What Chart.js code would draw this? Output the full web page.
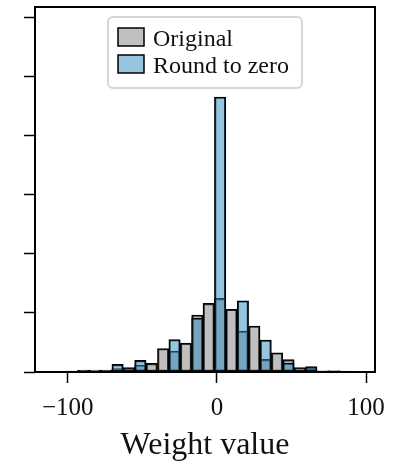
<!DOCTYPE html>
<html>
<head>
<meta charset="utf-8">
<script src="https://cdn.jsdelivr.net/npm/chart.js@4.4.1/dist/chart.umd.min.js"></script>
<style>
  html, body { margin: 0; padding: 0; background: #ffffff; }
  #wrap { width: 396px; height: 466px; }
</style>
</head>
<body>
<div id="wrap"><canvas id="c" width="396" height="466"></canvas></div>
<script>
// Histogram bins (centre of each bin, weight units)
const binCenters = [-97.18, -89.54, -81.90, -74.26, -66.62, -58.98, -51.34, -43.70, -36.06, -28.42,
                    -20.78, -13.14, -5.50, 2.14, 9.78, 17.42, 25.06, 32.70, 40.34, 47.98,
                    55.62, 63.26, 70.90, 78.54, 86.18];

// Bin counts for each weight set
const originalCounts = [1.7, 3.4, 3.4, 3.4, 6, 7.3, 11.9, 14.7, 39.8, 35.6,
                        49, 96.6, 116.4, 124.9, 106.3, 69.5, 78, 21.5, 32.7, 21,
                        7.6, 6, 2, 2, 1.7];
const roundToZeroCounts = [0.8, 2.5, 0, 2.5, 13, 0, 19.8, 0, 0, 55.1,
                           0, 91.5, 0, 466, 0, 120.8, 0, 54.2, 0, 15.3,
                           0, 9, 0, 2, 0];

const seriesNames = ['Original', 'Round to zero'];
const xTickValues = [-100, 0, 100];
const xTickLabels = ['\u2212100', '0', '100'];
const yTickValues = [0, 100, 200, 300, 400, 500, 600];
const xAxisTitle = 'Weight value';

const SERIF = "'Liberation Serif', 'Times New Roman', serif";
const GRAY = 'rgba(128,128,128,0.5)';
const BLUE = 'rgba(50,140,190,0.5)';

const toPoints = (vals) => binCenters.map((x, i) => ({ x, y: vals[i] === 0 ? null : vals[i] }));

// Axes frame drawn on all four sides, over the bars
const framePlugin = {
  id: 'frame',
  afterDatasetsDraw(chart) {
    const { ctx, chartArea: a } = chart;
    ctx.save();
    ctx.strokeStyle = '#000';
    ctx.lineWidth = 2;
    ctx.strokeRect(a.left, a.top, a.right - a.left, a.bottom - a.top);
    ctx.restore();
  }
};

// Boxed legend placed inside the plot area
const boxLegendPlugin = {
  id: 'boxLegend',
  afterDraw(chart) {
    const ctx = chart.ctx;
    const x0 = 108, y0 = 17, w = 194, h = 71, r = 5;
    ctx.save();
    ctx.fillStyle = 'rgba(255,255,255,0.85)';
    ctx.strokeStyle = '#d6d6d6';
    ctx.lineWidth = 2;
    ctx.beginPath();
    ctx.roundRect(x0, y0, w, h, r);
    ctx.fill();
    ctx.stroke();
    ctx.font = '24px ' + SERIF;
    ctx.textBaseline = 'alphabetic';
    ctx.textAlign = 'left';
    chart.data.datasets.forEach((ds, i) => {
      const py = 28 + i * 27;
      ctx.fillStyle = '#fff';
      ctx.fillRect(118, py, 26, 18);
      ctx.fillStyle = ds.backgroundColor;
      ctx.fillRect(118, py, 26, 18);
      ctx.strokeStyle = '#000';
      ctx.lineWidth = 1.5;
      ctx.strokeRect(118, py, 26, 18);
      ctx.fillStyle = '#111';
      ctx.fillText(ds.label, 153, py + 17.5);
    });
    ctx.restore();
  }
};

new Chart(document.getElementById('c'), {
  type: 'bar',
  data: {
    datasets: [
      {
        label: seriesNames[0],
        data: toPoints(originalCounts),
        backgroundColor: GRAY,
        borderColor: '#000',
        borderWidth: 1.5,
        borderSkipped: false,
        grouped: false,
        order: 2,
        barPercentage: 1,
        categoryPercentage: 1
      },
      {
        label: seriesNames[1],
        data: toPoints(roundToZeroCounts),
        backgroundColor: BLUE,
        borderColor: '#000',
        borderWidth: 1.5,
        borderSkipped: false,
        grouped: false,
        order: 1,
        barPercentage: 1,
        categoryPercentage: 1
      }
    ]
  },
  options: {
    responsive: false,
    animation: false,
    devicePixelRatio: 1,
    layout: { padding: { top: 7, right: 21, left: 0, bottom: 0 } },
    plugins: { legend: { display: false }, tooltip: { enabled: false } },
    scales: {
      x: {
        type: 'linear',
        min: -122,
        max: 106,
        offset: false,
        afterBuildTicks(s) { s.ticks = xTickValues.map(v => ({ value: v })); },
        afterFit(s) { s.height = 94; },
        grid: { drawOnChartArea: false, offset: false, tickLength: 11, tickWidth: 1.5, tickColor: '#000' },
        border: { display: false },
        ticks: {
          color: '#111',
          padding: 10,
          maxRotation: 0,
          font: { family: SERIF, size: 25 },
          callback(v) { const i = xTickValues.indexOf(v); return i >= 0 ? xTickLabels[i] : ''; }
        },
        title: {
          display: true,
          text: xAxisTitle,
          color: '#111',
          font: { family: SERIF, size: 32 },
          padding: { top: 0, bottom: 1 }
        }
      },
      y: {
        min: 0,
        max: 618.6,
        afterBuildTicks(s) { s.ticks = yTickValues.map(v => ({ value: v })); },
        afterFit(s) { s.width = 35; },
        grid: { drawOnChartArea: false, tickLength: 11, tickWidth: 1.5, tickColor: '#000' },
        border: { display: false },
        ticks: { display: false }
      }
    }
  },
  plugins: [framePlugin, boxLegendPlugin]
});
</script>
</body>
</html>
